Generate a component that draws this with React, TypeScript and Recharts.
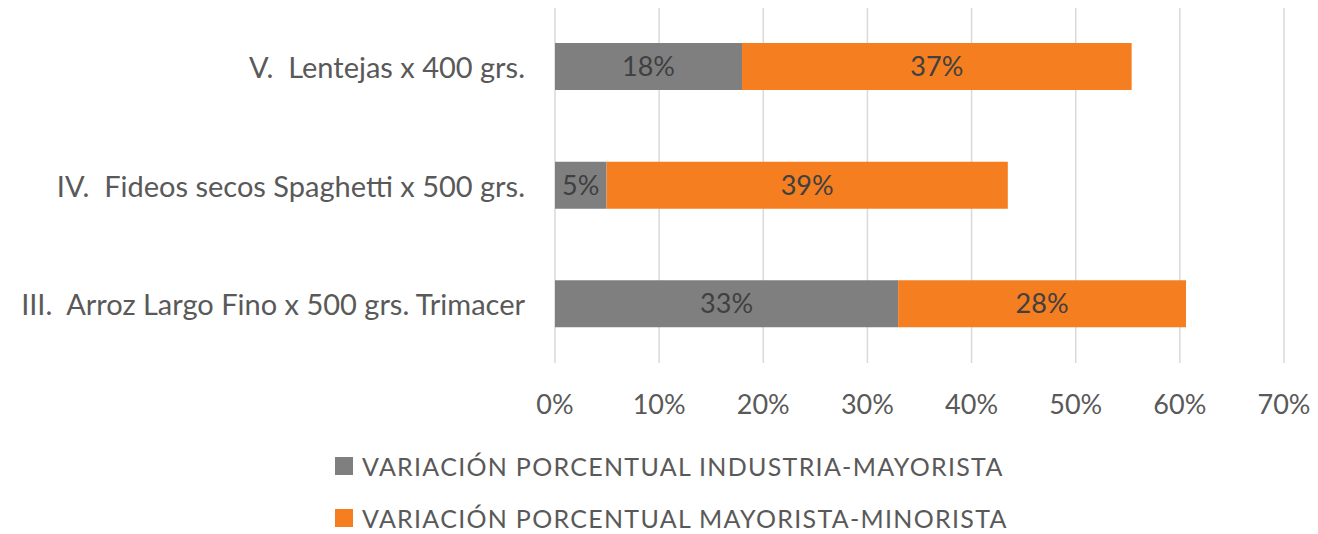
import React from 'react';
import { BarChart, Bar, XAxis, YAxis, CartesianGrid, Legend, LabelList } from 'recharts';

const categories = [
  'V.  Lentejas x 400 grs.',
  'IV.  Fideos secos Spaghetti x 500 grs.',
  'III.  Arroz Largo Fino x 500 grs. Trimacer',
];
const industriaMayorista = [0.1796, 0.0495, 0.3295];
const mayoristaMinorista = [0.3741, 0.3853, 0.2764];
const xTicks = [0, 0.1, 0.2, 0.3, 0.4, 0.5, 0.6, 0.7];
const seriesNames = [
  'VARIACIÓN PORCENTUAL INDUSTRIA-MAYORISTA',
  'VARIACIÓN PORCENTUAL MAYORISTA-MINORISTA',
];
const seriesColors = ['#7F7F7F', '#F47E20'];

const data = categories.map((name, i) => ({
  name,
  a: industriaMayorista[i],
  b: mayoristaMinorista[i],
}));

const FONT = 'Lato, "Open Sans", sans-serif';
const TEXT = '#595959';

const pct = (v: number) => `${Math.round(v * 100)}%`;

const CatTick = (props: any) => {
  const { x, y, payload } = props;
  return (
    <text
      x={x}
      y={y}
      textAnchor="end"
      dominantBaseline="central"
      fill={TEXT}
      fontSize={29}
      fontFamily={FONT}
      style={{ whiteSpace: 'pre' }}
    >
      {payload.value}
    </text>
  );
};

const legendRowTops = [34, 86];

const LegendContent = () => (
  <div style={{ position: 'relative', width: 1318, height: 114, fontFamily: FONT }}>
    {seriesNames.map((n, i) => (
      <div
        key={n}
        style={{
          position: 'absolute',
          left: 335,
          top: legendRowTops[i],
          height: 24,
          lineHeight: '24px',
          display: 'flex',
          alignItems: 'center',
          whiteSpace: 'nowrap',
        }}
      >
        <span style={{ display: 'inline-block', width: 18, height: 18, background: seriesColors[i], marginRight: 9 }} />
        <span
          style={{
            display: 'inline-block',
            height: 24,
            lineHeight: '24px',
            fontSize: 25,
            letterSpacing: '1.3px',
            color: TEXT,
          }}
        >
          {n}
        </span>
      </div>
    ))}
  </div>
);

export default function App() {
  return (
    <div style={{ margin: '-8px 0 0 -8px', width: 1318, height: 534 }}>
      <BarChart
        width={1318}
        height={534}
        data={data}
        layout="vertical"
        margin={{ top: 7, right: 34, bottom: 0, left: 0 }}
        barSize={47}
      >
        <CartesianGrid horizontal={false} stroke="#D9D9D9" strokeWidth={1.5} />
        <XAxis
          type="number"
          domain={[0, 0.7]}
          ticks={xTicks}
          tickFormatter={pct}
          axisLine={false}
          tickLine={false}
          tickSize={0}
          tickMargin={32}
          height={57}
          interval={0}
          tick={{ fill: TEXT, fontSize: 27, fontFamily: FONT }}
        />
        <YAxis
          type="category"
          dataKey="name"
          width={555}
          axisLine={false}
          tickLine={false}
          tickSize={0}
          tickMargin={30}
          tick={<CatTick />}
        />
        <Legend
          verticalAlign="bottom"
          content={<LegendContent />}
          wrapperStyle={{ left: 0, width: 1318, height: 114 }}
        />
        <Bar dataKey="a" stackId="s" name={seriesNames[0]} fill={seriesColors[0]} isAnimationActive={false}>
          <LabelList dataKey="a" position="center" formatter={pct as any} fill="#404040" fontSize={27} fontFamily={FONT} />
        </Bar>
        <Bar dataKey="b" stackId="s" name={seriesNames[1]} fill={seriesColors[1]} isAnimationActive={false}>
          <LabelList dataKey="b" position="center" formatter={pct as any} fill="#404040" fontSize={27} fontFamily={FONT} />
        </Bar>
      </BarChart>
    </div>
  );
}
